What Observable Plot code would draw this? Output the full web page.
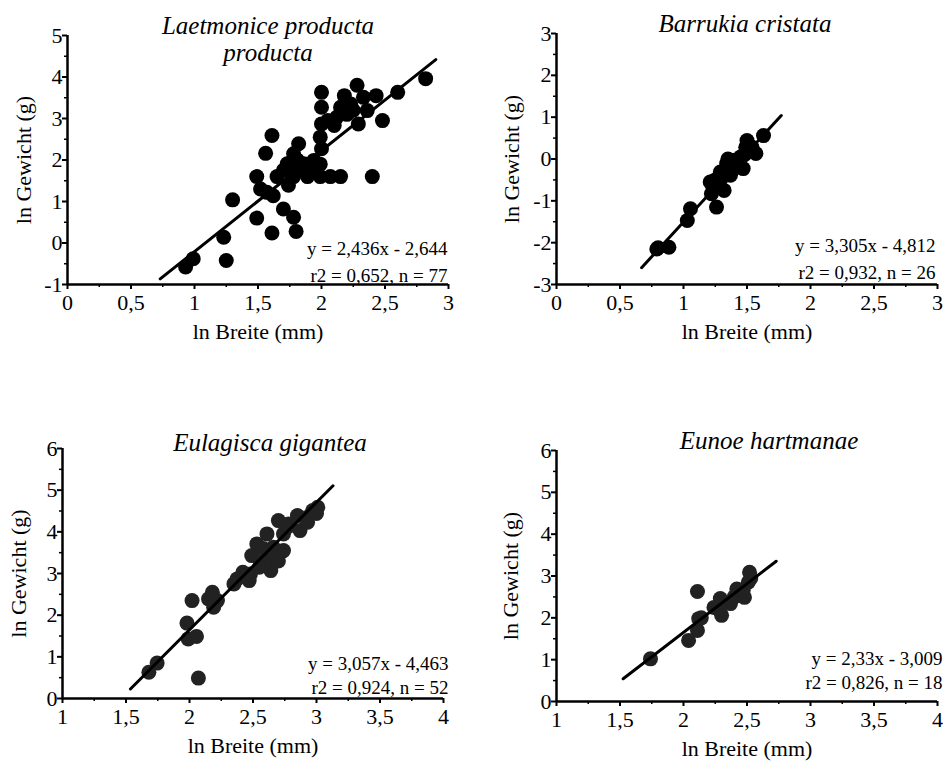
<!DOCTYPE html>
<html><head><meta charset="utf-8">
<script src="https://cdn.jsdelivr.net/npm/d3@7"></script>
<script src="https://cdn.jsdelivr.net/npm/@observablehq/plot@0.6"></script>
<style>
body{margin:0;background:#fff;}
#wrap{position:relative;width:944px;height:763px;overflow:hidden;}
.p{position:absolute;}
#wrap svg, #wrap svg text{font-family:"Liberation Serif","Times New Roman",serif !important;}
</style>
</head><body><div id="wrap"></div>
<script>
// ---- data ----
const titles = ["Laetmonice producta\nproducta", "Barrukia cristata", "Eulagisca gigantea", "Eunoe hartmanae"];
const slopes = [2.436, 3.305, 3.057, 2.33];
const intercepts = [-2.644, -4.812, -4.463, -3.009];
const fitRanges = [[0.73, 2.9], [0.67, 1.77], [1.535, 3.13], [1.525, 2.73]];
const eqLines = [
  ["y = 2,436x - 2,644", "r2 = 0,652, n = 77"],
  ["y = 3,305x - 4,812", "r2 = 0,932, n = 26"],
  ["y = 3,057x - 4,463", "r2 = 0,924, n = 52"],
  ["y = 2,33x - 3,009", "r2 = 0,826, n = 18"]
];
const xLabel = "ln Breite (mm)";
const yLabel = "ln Gewicht (g)";
const xTicksTop = [0, 0.5, 1, 1.5, 2, 2.5, 3];
const xTicksBottom = [1, 1.5, 2, 2.5, 3, 3.5, 4];
const yTicks1 = [-1, 0, 1, 2, 3, 4, 5];
const yTicks2 = [-3, -2, -1, 0, 1, 2, 3];
const yTicksBottom = [0, 1, 2, 3, 4, 5, 6];

const pts1 = [[0.93,-0.58],[0.99,-0.38],[1.23,0.14],[1.25,-0.42],[1.30,1.04],[1.49,0.60],[1.61,0.24],[1.49,1.60],[1.56,2.16],[1.61,2.59],[1.52,1.30],[1.62,1.14],[1.65,1.60],[1.70,0.82],[1.78,0.62],[1.80,0.28],[1.74,1.39],[1.78,1.60],[1.89,1.60],[1.99,1.60],[2.07,1.60],[2.15,1.60],[2.40,1.60],[1.73,1.91],[1.78,2.15],[1.82,2.39],[1.86,1.91],[1.94,1.99],[1.70,1.75],[1.89,1.75],[1.99,1.90],[1.81,2.00],[2.00,2.27],[1.99,2.55],[2.00,2.87],[2.00,3.27],[2.00,3.63],[2.12,3.03],[2.15,3.27],[2.18,3.55],[2.23,3.35],[2.28,3.80],[2.33,3.51],[2.36,3.19],[2.29,2.87],[2.43,3.55],[2.48,2.95],[2.60,3.63],[2.82,3.96],[2.10,2.83],[2.05,2.95],[1.76,1.70],[1.84,1.80],[1.92,1.70],[2.25,3.20],[2.20,3.10],[1.57,1.22]];
const pts2 = [[0.79,-2.15],[0.885,-2.11],[0.80,-2.12],[1.03,-1.47],[1.055,-1.19],[1.21,-0.55],[1.22,-0.83],[1.26,-1.15],[1.32,-0.75],[1.29,-0.31],[1.34,-0.11],[1.37,-0.39],[1.40,-0.03],[1.45,0.05],[1.47,-0.23],[1.49,0.28],[1.50,0.44],[1.54,0.28],[1.57,0.13],[1.63,0.56],[1.42,-0.20],[1.25,-0.50],[1.30,-0.45],[1.35,0.0],[1.48,0.1],[1.23,-0.65]];
const pts3 = [[1.68,0.63],[1.745,0.85],[1.98,1.81],[1.99,1.43],[2.055,1.49],[2.02,2.35],[2.07,0.49],[2.15,2.39],[2.18,2.55],[2.22,2.35],[2.19,2.19],[2.35,2.75],[2.375,2.87],[2.42,3.03],[2.47,2.83],[2.49,3.43],[2.48,2.99],[2.55,3.15],[2.56,3.27],[2.53,3.71],[2.61,3.95],[2.64,3.07],[2.64,3.39],[2.66,3.63],[2.66,3.47],[2.70,3.30],[2.72,3.51],[2.70,4.27],[2.74,3.95],[2.74,3.55],[2.78,4.19],[2.77,4.11],[2.85,4.39],[2.87,4.03],[2.93,4.23],[2.93,4.35],[2.97,4.51],[3.01,4.59],[3.00,4.44],[2.58,3.60],[2.45,2.95]];
const pts4 = [[1.74,1.02],[2.04,1.46],[2.11,1.70],[2.12,1.98],[2.14,2.00],[2.11,2.63],[2.24,2.25],[2.29,2.46],[2.30,2.06],[2.37,2.34],[2.40,2.50],[2.42,2.69],[2.48,2.49],[2.51,2.85],[2.52,3.09],[2.47,2.66],[2.28,2.20],[2.53,2.95]];

// ---- layout ----
const fmt = d => String(d).replace(".", ",");
const minorOf = (ticks, step) => d3.range(ticks[0], ticks[ticks.length-1] + 1e-9, step).filter(v => !ticks.some(t => Math.abs(t - v) < 1e-9));

const panels = [
  {left:0, top:0, width:470, height:380, ml:67, mr:22, mt:35, mb:96, xt:xTicksTop, yt:yTicks1, pts:pts1, fill:"#000",
   tdx:10, tdy:3, eqdx:-1, eqdy:[-36,-9], lo:52},
  {left:470, top:0, width:474, height:380, ml:86, mr:7, mt:33, mb:96, xt:xTicksTop, yt:yTicks2, pts:pts2, fill:"#000",
   tdx:-2, tdy:-10, eqdx:-2, eqdy:[-39,-12], lo:53},
  {left:0, top:380, width:470, height:383, ml:62, mr:27, mt:68, mb:65, xt:xTicksBottom, yt:yTicksBottom, pts:pts3, fill:"#222",
   tdx:17, tdy:-6, eqdx:5, eqdy:[-35,-11], lo:52},
  {left:470, top:380, width:474, height:383, ml:86, mr:7, mt:70, mb:62, xt:xTicksBottom, yt:yTicksBottom, pts:pts4, fill:"#222",
   tdx:22, tdy:-10, eqdx:5, eqdy:[-43,-19], lo:54}
];

const wrap = document.getElementById("wrap");
panels.forEach((p, i) => {
  const xd = [p.xt[0], p.xt[p.xt.length-1]];
  const yd = [p.yt[0], p.yt[p.yt.length-1]];
  const fit = fitRanges[i].map(x => ({x, y: slopes[i]*x + intercepts[i]}));
  const data = p.pts.map(([x, y]) => ({x, y}));
  const chart = Plot.plot({
    width: p.width, height: p.height,
    marginLeft: p.ml, marginRight: p.mr, marginTop: p.mt, marginBottom: p.mb,
    x: {domain: xd}, y: {domain: yd},
    style: {fontSize: "22px", background: "white", color: "black", overflow: "visible"},
    marks: [
      Plot.axisX({ticks: minorOf(p.xt, 0.25), tickSize: 3, tickFormat: () => "", label: null, strokeWidth: 1.5}),
      Plot.axisX({ticks: p.xt, tickSize: 5, tickPadding: 5, tickFormat: fmt, strokeWidth: 2, fontSize: 22,
        label: xLabel, labelAnchor: "center", labelArrow: "none", labelOffset: 54}),
      Plot.axisY({ticks: minorOf(p.yt, 0.5), tickSize: 3, tickFormat: () => "", label: null, strokeWidth: 1.5}),
      Plot.axisY({ticks: p.yt, tickSize: 5, tickPadding: 0, tickFormat: fmt, strokeWidth: 2, fontSize: 22,
        label: yLabel, labelAnchor: "center", labelArrow: "none", labelOffset: p.lo}),
      Plot.ruleY([yd[0]], {strokeWidth: 2.5}),
      Plot.ruleX([xd[0]], {strokeWidth: 2.5}),
      Plot.dot(data, {x: "x", y: "y", r: 7.5, fill: p.fill, stroke: null}),
      Plot.line(fit, {x: "x", y: "y", strokeWidth: 3, stroke: "black"}),
      Plot.text([titles[i]], {frameAnchor: "top", dx: p.tdx, dy: p.tdy, lineAnchor: "middle", lineHeight: 1.1,
        fontSize: 25, fontStyle: "italic"}),
      Plot.text([eqLines[i][0]], {frameAnchor: "bottom-right", textAnchor: "end", lineAnchor: "middle", dx: p.eqdx, dy: p.eqdy[0], fontSize: 19}),
      Plot.text([eqLines[i][1]], {frameAnchor: "bottom-right", textAnchor: "end", lineAnchor: "middle", dx: p.eqdx, dy: p.eqdy[1], fontSize: 19})
    ]
  });
  const div = document.createElement("div");
  div.className = "p";
  div.style.left = p.left + "px";
  div.style.top = p.top + "px";
  div.appendChild(chart);
  wrap.appendChild(div);
});
</script>
</body></html>
